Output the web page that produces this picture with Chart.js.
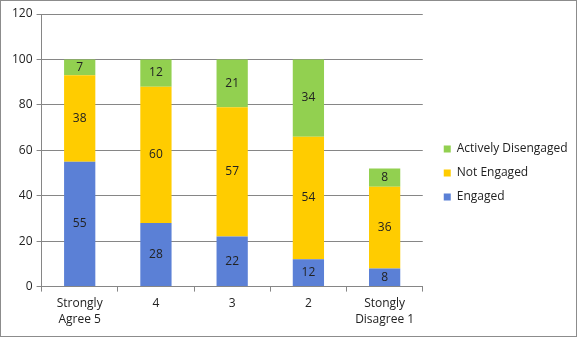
<!DOCTYPE html>
<html>
<head>
<meta charset="utf-8">
<script src="https://cdn.jsdelivr.net/npm/chart.js@4"></script>
<style>
  html, body { margin: 0; padding: 0; background: #fff; }
  #wrap { position: relative; width: 575px; height: 335px; border: 1px solid #8c8c8c; }
</style>
</head>
<body>
<div id="wrap"><canvas id="chart"></canvas></div>
<script>
// categories and values
const categories = [['Strongly', 'Agree 5'], '4', '3', '2', ['Stongly', 'Disagree 1']]
const engaged = [55, 28, 22, 12, 8]
const notEngaged = [38, 60, 57, 54, 36]
const activelyDisengaged = [7, 12, 21, 34, 8]
const yTicks = [0, 20, 40, 60, 80, 100, 120]

const FONT = "'Open Sans', 'DejaVu Sans', sans-serif"

// write each value in the middle of its segment
const segmentLabels = {
  id: 'segmentLabels',
  afterDatasetsDraw(chart) {
    const ctx = chart.ctx
    ctx.save()
    ctx.font = '12px ' + FONT
    ctx.fillStyle = '#222'
    ctx.textAlign = 'center'
    ctx.textBaseline = 'middle'
    chart.data.datasets.forEach((ds, i) => {
      chart.getDatasetMeta(i).data.forEach((bar, j) => {
        const mid = (bar.y + bar.base) / 2
        ctx.fillText(String(ds.data[j]), bar.x, mid)
      })
    })
    ctx.restore()
  }
}

// legend sits a bit further from the plot than chart.js puts it
const legendGap = {
  id: 'legendGap',
  afterLayout(chart) {
    chart.legend.left += 9
    chart.legend.right += 9
  }
}

const chart = new Chart(document.getElementById('chart'), {
  type: 'bar',
  data: {
    labels: categories,
    datasets: [
      { label: 'Engaged', data: engaged, backgroundColor: '#5b80d6' },
      { label: 'Not Engaged', data: notEngaged, backgroundColor: '#ffcc00' },
      { label: 'Actively Disengaged', data: activelyDisengaged, backgroundColor: '#92d050' },
    ],
  },
  options: {
    responsive: true,
    maintainAspectRatio: false,
    animation: false,
    layout: { padding: { top: 13, left: 7, right: 15, bottom: 4 } },
    datasets: {
      bar: { barPercentage: 0.41, categoryPercentage: 1 }
    },
    plugins: {
      tooltip: { enabled: false },
      legend: {
        position: 'right',
        reverse: true,
        labels: {
          boxWidth: 7,
          boxHeight: 7,
          padding: 12,
          color: '#222',
          font: { family: FONT, size: 12 },
        },
      },
    },
    scales: {
      x: {
        stacked: true,
        grid: { display: true, drawOnChartArea: false, color: '#868686', tickLength: 5 },
        border: { color: '#868686' },
        ticks: { color: '#222', font: { family: FONT, size: 12, lineHeight: 1.35 }, maxRotation: 0, padding: 4 },
      },
      y: {
        stacked: true,
        min: 0,
        max: 120,
        afterBuildTicks: (axis) => { axis.ticks = yTicks.map(v => ({ value: v })) },
        grid: { color: '#868686', tickLength: 5 },
        border: { color: '#868686' },
        ticks: { color: '#222', font: { family: FONT, size: 12 }, padding: 4 },
      },
    },
  },
  plugins: [segmentLabels, legendGap],
})
</script>
</body>
</html>
